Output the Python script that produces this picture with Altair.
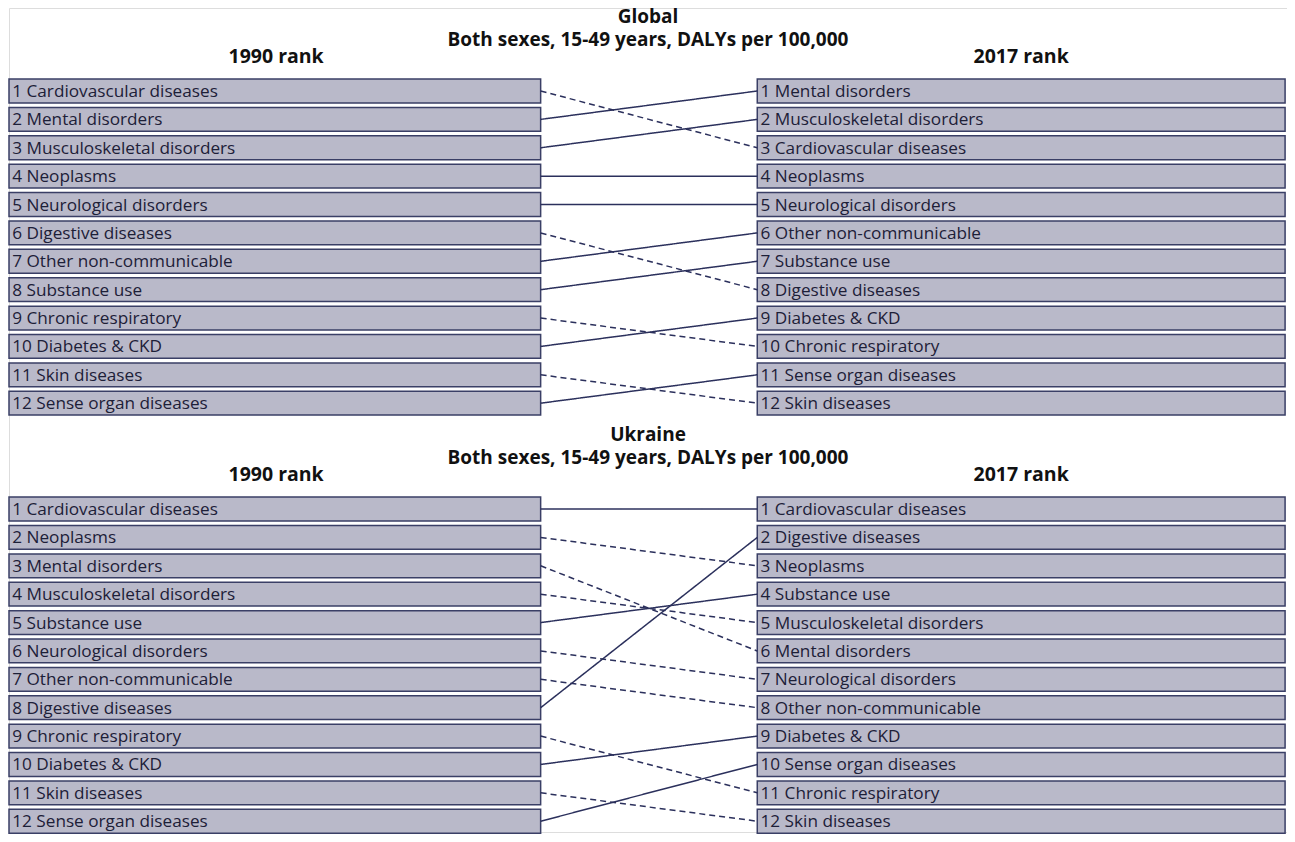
import altair as alt
import pandas as pd

# ---------------- data ----------------
panels = ["Global", "Ukraine"]
subtitle = "Both sexes, 15-49 years, DALYs per 100,000"
header_left = "1990 rank"
header_right = "2017 rank"

global_1990 = ["Cardiovascular diseases", "Mental disorders", "Musculoskeletal disorders",
               "Neoplasms", "Neurological disorders", "Digestive diseases",
               "Other non-communicable", "Substance use", "Chronic respiratory",
               "Diabetes & CKD", "Skin diseases", "Sense organ diseases"]
global_2017 = ["Mental disorders", "Musculoskeletal disorders", "Cardiovascular diseases",
               "Neoplasms", "Neurological disorders", "Other non-communicable",
               "Substance use", "Digestive diseases", "Diabetes & CKD",
               "Chronic respiratory", "Sense organ diseases", "Skin diseases"]
ukraine_1990 = ["Cardiovascular diseases", "Neoplasms", "Mental disorders",
                "Musculoskeletal disorders", "Substance use", "Neurological disorders",
                "Other non-communicable", "Digestive diseases", "Chronic respiratory",
                "Diabetes & CKD", "Skin diseases", "Sense organ diseases"]
ukraine_2017 = ["Cardiovascular diseases", "Digestive diseases", "Neoplasms",
                "Substance use", "Musculoskeletal disorders", "Mental disorders",
                "Neurological disorders", "Other non-communicable", "Diabetes & CKD",
                "Sense organ diseases", "Chronic respiratory", "Skin diseases"]

rankings = {"Global": (global_1990, global_2017), "Ukraine": (ukraine_1990, ukraine_2017)}

# ---------------- layout (not data) ----------------
PANEL_OFFSET = {"Global": 0.0, "Ukraine": 14.73}
LEFT = (0.0, 41.6)
RIGHT = (58.55, 99.85)
HALF = 0.42
FILL = "#b9b9c9"
EDGE = "#3a3f66"
LINK = "#2b305c"
FONT = "Open Sans"

box_rows, link_rows, title_rows, head_rows = [], [], [], []
for p in panels:
    r1990, r2017 = rankings[p]
    off = PANEL_OFFSET[p]
    for side, names, (x0, x1) in (("L", r1990, LEFT), ("R", r2017, RIGHT)):
        for i, n in enumerate(names):
            rank = i + 1
            box_rows.append(dict(panel=p, side=side, x0=x0, x1=x1, xt=x0 + 0.25,
                                 slot=rank + off, top=rank + off - HALF,
                                 bot=rank + off + HALF, label=f"{rank} {n}"))
    for i, n in enumerate(r1990):
        a = i + 1
        b = r2017.index(n) + 1
        link_rows.append(dict(panel=p, name=n, xa=LEFT[1], xb=RIGHT[0],
                              ya=a + off, yb=b + off,
                              style="down" if b > a else "up"))
    title_rows.append(dict(text=f"{p}\n{subtitle}", x=50.0, y=off - 1.92))
    head_rows += [
        dict(text=header_left, x=20.9, y=off - 0.19),
        dict(text=header_right, x=79.2, y=off - 0.19),
    ]

boxes = pd.DataFrame(box_rows)
links = pd.DataFrame(link_rows)
titles = pd.DataFrame(title_rows)
headers = pd.DataFrame(head_rows)

xs = alt.Scale(domain=[0, 100], nice=False, zero=False)
ys = alt.Scale(domain=[-1.925, 27.11], nice=False, zero=False, reverse=True)
noax = None

rects = alt.Chart(boxes).mark_rect(fill=FILL, stroke=EDGE, strokeWidth=1.5).encode(
    x=alt.X("x0:Q", scale=xs, axis=noax), x2="x1:Q",
    y=alt.Y("top:Q", scale=ys, axis=noax), y2="bot:Q")

labels = alt.Chart(boxes).mark_text(align="left", baseline="middle", font=FONT,
                                    fontSize=17.2, color="#1d2038", dy=1).encode(
    x=alt.X("xt:Q", scale=xs, axis=noax),
    y=alt.Y("slot:Q", scale=ys, axis=noax),
    text="label:N")

rules = alt.Chart(links).mark_rule(color=LINK, strokeWidth=1.5).encode(
    x=alt.X("xa:Q", scale=xs, axis=noax), x2="xb:Q",
    y=alt.Y("ya:Q", scale=ys, axis=noax), y2="yb:Q",
    strokeDash=alt.StrokeDash("style:N", scale=alt.Scale(domain=["up", "down"],
                                                         range=[[1, 0], [6, 4]]),
                              legend=None))

title_marks = alt.Chart(titles).mark_text(align="center", baseline="top", font=FONT,
                                          fontSize=19, fontWeight="bold", color="#111111",
                                          lineBreak="\n", lineHeight=23).encode(
    x=alt.X("x:Q", scale=xs, axis=noax),
    y=alt.Y("y:Q", scale=ys, axis=noax),
    text="text:N")

head_marks = alt.Chart(headers).mark_text(align="center", baseline="middle", font=FONT,
                                          fontSize=19.5, fontWeight="bold", color="#111111").encode(
    x=alt.X("x:Q", scale=xs, axis=noax),
    y=alt.Y("y:Q", scale=ys, axis=noax),
    text="text:N")

chart = alt.layer(rects, rules, labels, title_marks, head_marks).properties(
    width=1279, height=826, padding=0,
    autosize=alt.AutoSizeParams(type="fit", contains="padding"),
).configure_view(stroke=None, strokeWidth=0).configure(background="white")

chart.save("out.html", embed_options={"renderer": "svg", "actions": False})
